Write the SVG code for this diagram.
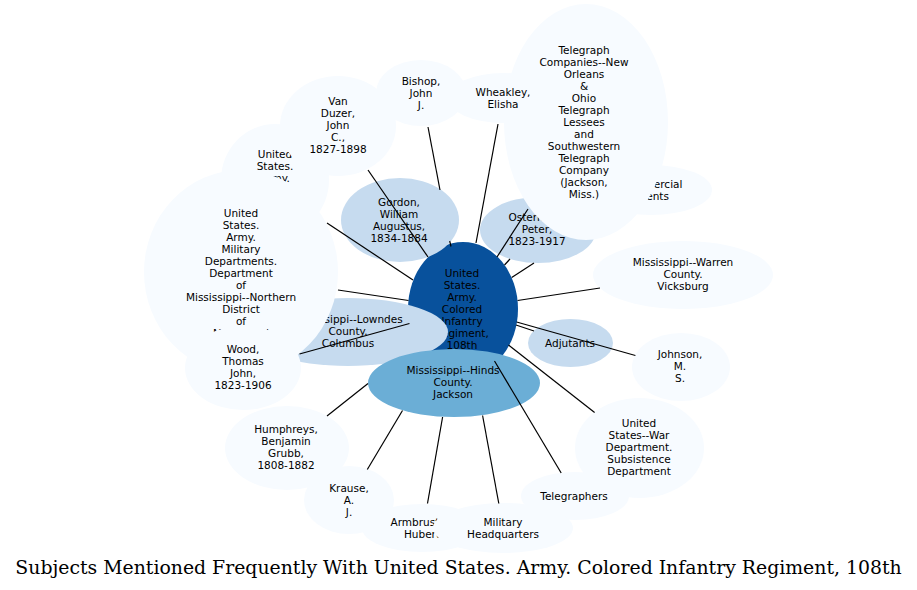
<svg xmlns="http://www.w3.org/2000/svg" width="917" height="590" viewBox="0 0 917 590">
<style>
.n text{font-family:"DejaVu Sans","Liberation Sans",sans-serif;font-size:10.5px;text-anchor:middle;dominant-baseline:central;fill:#000}
.l{fill:#f7fbff}.m{fill:#c6dbef}.h{fill:#6baed6}.d{fill:#08519c}
#edges line{stroke:#000;stroke-width:1.2;fill:none}
.title{font-family:"DejaVu Serif","Liberation Serif",serif;font-size:18.85px;text-anchor:middle;fill:#000}
</style>
<rect width="917" height="590" fill="#fff"/>
<g id="n_center" class="n"><ellipse class="d" cx="463" cy="309" rx="55" ry="67"/>
<text x="462" y="273">United</text><text x="462" y="285">States.</text><text x="462" y="297">Army.</text><text x="462" y="309">Colored</text><text x="462" y="321">Infantry</text><text x="462" y="333">Regiment,</text><text x="462" y="345">108th</text></g>
<g id="n_usarmy" class="n"><ellipse class="l" cx="275" cy="180" rx="54" ry="56"/>
<text x="275" y="154">United</text><text x="275" y="166">States.</text><text x="275" y="178">Army.</text></g>
<g id="n_vanduzer" class="n"><ellipse class="l" cx="338" cy="126" rx="58" ry="50"/>
<text x="338" y="101">Van</text><text x="338" y="113">Duzer,</text><text x="338" y="125">John</text><text x="338" y="137">C.,</text><text x="338" y="149">1827-1898</text></g>
<g id="n_bishop" class="n"><ellipse class="l" cx="421" cy="93" rx="45" ry="33"/>
<text x="421" y="81">Bishop,</text><text x="421" y="93">John</text><text x="421" y="105">J.</text></g>
<g id="n_gordon" class="n"><ellipse class="m" cx="400" cy="220" rx="59" ry="42"/>
<text x="399" y="202">Gordon,</text><text x="399" y="214">William</text><text x="399" y="226">Augustus,</text><text x="399" y="238">1834-1884</text></g>
<g id="n_commercial" class="n"><ellipse class="l" cx="651" cy="190" rx="61" ry="25"/>
<text x="651" y="184">Commercial</text><text x="651" y="196">agents</text></g>
<g id="n_osterhaus" class="n"><ellipse class="m" cx="538" cy="230" rx="58" ry="33"/>
<text x="537" y="217">Osterhaus,</text><text x="537" y="229">Peter,</text><text x="537" y="241">1823-1917</text></g>
<g id="n_telegraphco" class="n"><ellipse class="l" cx="586" cy="122" rx="82" ry="118"/>
<text x="584" y="50">Telegraph</text><text x="584" y="62">Companies--New</text><text x="584" y="74">Orleans</text><text x="584" y="86">&amp;</text><text x="584" y="98">Ohio</text><text x="584" y="110">Telegraph</text><text x="584" y="122">Lessees</text><text x="584" y="134">and</text><text x="584" y="146">Southwestern</text><text x="584" y="158">Telegraph</text><text x="584" y="170">Company</text><text x="584" y="182">(Jackson,</text><text x="584" y="194">Miss.)</text></g>
<g id="n_wheakley" class="n"><ellipse class="l" cx="503" cy="98" rx="55" ry="25"/>
<text x="503" y="92">Wheakley,</text><text x="503" y="104">Elisha</text></g>
<g id="n_warren" class="n"><ellipse class="l" cx="683" cy="275" rx="90" ry="34"/>
<text x="683" y="262">Mississippi--Warren</text><text x="683" y="274">County.</text><text x="683" y="286">Vicksburg</text></g>
<g id="n_adjutants" class="n"><ellipse class="m" cx="570.5" cy="343" rx="42.5" ry="24"/>
<text x="570" y="343">Adjutants</text></g>
<g id="n_johnson" class="n"><ellipse class="l" cx="681" cy="367" rx="49" ry="34"/>
<text x="680" y="354">Johnson,</text><text x="680" y="366">M.</text><text x="680" y="378">S.</text></g>
<g id="n_subsistence" class="n"><ellipse class="l" cx="639.5" cy="448" rx="64.5" ry="50"/>
<text x="639" y="423">United</text><text x="639" y="435">States--War</text><text x="639" y="447">Department.</text><text x="639" y="459">Subsistence</text><text x="639" y="471">Department</text></g>
<g id="n_telegraphers" class="n"><ellipse class="l" cx="575" cy="496" rx="54" ry="24"/>
<text x="574" y="496">Telegraphers</text></g>
<g id="n_armbruster" class="n"><ellipse class="l" cx="422" cy="528" rx="60" ry="24"/>
<text x="422" y="522">Armbruster,</text><text x="422" y="534">Hubert</text></g>
<g id="n_mhq" class="n"><ellipse class="l" cx="503" cy="528" rx="70" ry="25"/>
<text x="503" y="522">Military</text><text x="503" y="534">Headquarters</text></g>
<g id="n_krause" class="n"><ellipse class="l" cx="349" cy="500" rx="45" ry="34"/>
<text x="349" y="488">Krause,</text><text x="349" y="500">A.</text><text x="349" y="512">J.</text></g>
<g id="n_humphreys" class="n"><ellipse class="l" cx="287" cy="448" rx="62" ry="42"/>
<text x="286" y="429">Humphreys,</text><text x="286" y="441">Benjamin</text><text x="286" y="453">Grubb,</text><text x="286" y="465">1808-1882</text></g>
<g id="n_lowndes" class="n"><ellipse class="m" cx="348" cy="332" rx="100" ry="34"/>
<text x="348" y="319">Mississippi--Lowndes</text><text x="348" y="331">County.</text><text x="348" y="343">Columbus</text></g>
<g id="n_hinds" class="n"><ellipse class="h" cx="454" cy="383" rx="86" ry="34"/>
<text x="453" y="370">Mississippi--Hinds</text><text x="453" y="382">County.</text><text x="453" y="394">Jackson</text></g>
<g id="n_northern" class="n"><ellipse class="l" cx="241" cy="272" rx="97" ry="102"/>
<text x="241" y="213">United</text><text x="241" y="225">States.</text><text x="241" y="237">Army.</text><text x="241" y="249">Military</text><text x="241" y="261">Departments.</text><text x="241" y="273">Department</text><text x="241" y="285">of</text><text x="241" y="297">Mississippi--Northern</text><text x="241" y="309">District</text><text x="241" y="321">of</text><text x="241" y="333">Mississippi</text></g>
<g id="n_wood" class="n"><ellipse class="l" cx="243" cy="368" rx="58" ry="42"/>
<text x="243" y="349">Wood,</text><text x="243" y="361">Thomas</text><text x="243" y="373">John,</text><text x="243" y="385">1823-1906</text></g>
<g id="edges">
<line x1="428" y1="257" x2="368" y2="170"/>
<line x1="440" y1="190" x2="428" y2="127"/>
<line x1="451" y1="246.5" x2="449.7" y2="241"/>
<line x1="476" y1="243" x2="498" y2="124"/>
<line x1="497" y1="257" x2="528" y2="209"/>
<line x1="504.5" y1="265" x2="510" y2="259"/>
<line x1="511.7" y1="277.5" x2="534" y2="263"/>
<line x1="517.6" y1="300.5" x2="600" y2="288"/>
<line x1="516" y1="325" x2="534" y2="331"/>
<line x1="516.6" y1="322" x2="635.4" y2="355.5"/>
<line x1="508.5" y1="345" x2="594.6" y2="412.5"/>
<line x1="494.5" y1="361" x2="561.2" y2="473"/>
<line x1="482.6" y1="415.5" x2="498.8" y2="503.5"/>
<line x1="442.6" y1="417" x2="427.5" y2="503.5"/>
<line x1="402.5" y1="410.5" x2="367.3" y2="469.5"/>
<line x1="368" y1="383.5" x2="327" y2="416"/>
<line x1="409.5" y1="323.5" x2="299.5" y2="354"/>
<line x1="408.5" y1="300.5" x2="338" y2="290"/>
<line x1="413" y1="280" x2="327" y2="223"/>
</g>
<text class="title" x="458.5" y="574">Subjects Mentioned Frequently With United States. Army. Colored Infantry Regiment, 108th</text>
</svg>
